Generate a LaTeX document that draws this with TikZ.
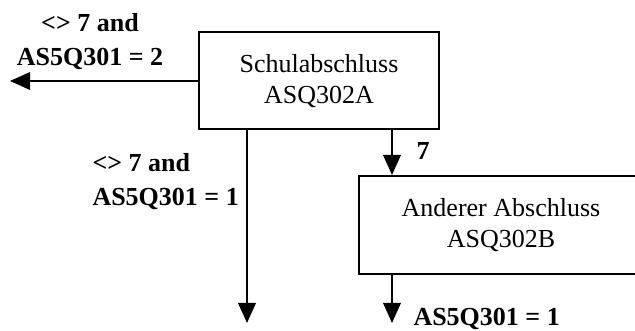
\documentclass[tikz,border=0pt]{standalone}
\usepackage{fontspec}
\setmainfont{Liberation Serif}
\usetikzlibrary{arrows.meta}

\begin{document}
\begin{tikzpicture} [x=0.4pt,y=-0.4pt,
  box/.style= {shape=rectangle,draw,line width=0.8pt,inner sep=0,align=center,font=\fontsize{10.4}{12.4}\selectfont},
  cond/.style= {inner sep=0,font=\fontsize{10.4}{13.6}\selectfont\bfseries},
  arr/.style= {line width=0.8pt,-{Triangle[length=8pt,width=7pt]}}]
  \useasboundingbox (0,0) rectangle (635,331);
  \clip (0,0) rectangle (635,331);
  % Boxes
  {\node[box][minimum width=96pt,minimum height=38.8pt] (schul) at (319,81) {Schulabschluss\\ASQ302A};}
  {\node[box][minimum width=113.6pt,minimum height=39.2pt] (anderer) at (501,225) {Anderer Abschluss\\ASQ302B};}
  % Free ends
  \coordinate (outA) at (10,81);
  \coordinate (outC) at (247,323);
  \coordinate (outB) at (392,323);
  % Arrows
  \draw[arr] (schul.west) -- (outA);
  \draw[arr] (schul.south -| outC) -- (outC);
  \draw[arr] (schul.south -| outB) -- (anderer.north -| outB);
  \draw[arr] (anderer.south -| outB) -- (outB);
  % Labels
  {\node[cond][align=center] (lblA) at (90,42) {<> 7 and\\AS5Q301 = 2};}
  {\node[cond][align=left,anchor=west] (lblC) at (92,182) {<> 7 and\\AS5Q301 = 1};}
  {\node[cond][anchor=base west] (lblB) at (416,160) {7};}
  {\node[cond][anchor=base west] (lblD) at (413,326) {AS5Q301 = 1};}
\end{tikzpicture}
\end{document}
